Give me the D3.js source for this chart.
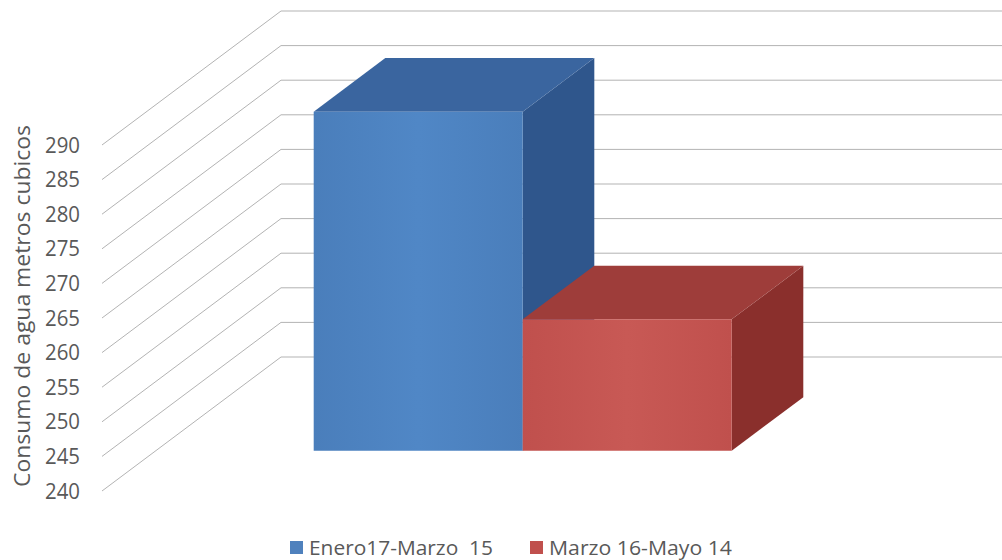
<!DOCTYPE html>
<html>
<head>
<meta charset="utf-8">
<script src="https://cdn.jsdelivr.net/npm/d3@7"></script>
<style>
  html, body { margin: 0; padding: 0; background: #ffffff; }
  svg { display: block; }
  text { font-family: "Open Sans", "Liberation Sans", sans-serif; fill: #595959; }
</style>
</head>
<body>
<svg id="chart" width="1002" height="560"></svg>
<script>
// ---- data ----
const categories = ["Enero17-Marzo  15", "Marzo 16-Mayo 14"];
const values = [289, 259];
const tickValues = [240, 245, 250, 255, 260, 265, 270, 275, 280, 285, 290];
const axisTitle = "Consumo de agua metros cubicos";

// ---- styles ----
const palette = {
  front: ["#4a7ebb", "#c0504d"],
  frontLight: ["#5087c6", "#c85955"],
  top: ["#3a659f", "#9e3d3a"],
  side: ["#2f568c", "#8a2f2c"],
  legend: ["#4f81bd", "#c0504d"]
};

const svg = d3.select("#chart");
const defs = svg.append("defs");

// oblique 3D projection parameters
const plotLeft = 102;
const DX = 179, DY = -134;          // depth vector (front -> back wall)
const backRight = 1002;
const t0 = 0.30, t1 = 0.70;        // bar depth range

const y = d3.scaleLinear().domain([240, 290]).range([491, 145]);
const x = d3.scaleBand().domain(categories).range([260, 678]).paddingInner(0).paddingOuter(0);

const P = (px, v, t) => [px + DX * t, y(v) + DY * t];

// gridlines: diagonals (side wall) + horizontals (back wall)
const grid = svg.append("g").attr("stroke", "#b3b3b3").attr("stroke-width", 1).attr("fill", "none");
grid.selectAll("line.diag").data(tickValues).join("line")
  .attr("class", "diag")
  .attr("x1", plotLeft).attr("y1", d => y(d))
  .attr("x2", plotLeft + DX).attr("y2", d => y(d) + DY);
grid.selectAll("line.back").data(tickValues).join("line")
  .attr("class", "back")
  .attr("x1", plotLeft + DX).attr("y1", d => y(d) + DY)
  .attr("x2", backRight).attr("y2", d => y(d) + DY);

// tick labels
svg.append("g").selectAll("text").data(tickValues).join("text")
  .attr("x", 80).attr("y", d => y(d)).attr("dy", "0.36em")
  .attr("text-anchor", "end").attr("font-size", 21)
  .attr("textLength", 35).attr("lengthAdjust", "spacingAndGlyphs")
  .text(d => d);

// axis title
svg.append("text")
  .attr("transform", "translate(30,306) rotate(-90)")
  .attr("text-anchor", "middle").attr("font-size", 22)
  .attr("textLength", 362).attr("lengthAdjust", "spacingAndGlyphs")
  .text(axisTitle);

// gradients for front faces
categories.forEach((c, i) => {
  const g = defs.append("linearGradient").attr("id", "fg" + i)
    .attr("x1", "0").attr("x2", "1").attr("y1", "0").attr("y2", "0");
  g.append("stop").attr("offset", "0").attr("stop-color", palette.front[i]);
  g.append("stop").attr("offset", "0.5").attr("stop-color", palette.frontLight[i]);
  g.append("stop").attr("offset", "1").attr("stop-color", palette.front[i]);
});

// bars
const poly = pts => pts.map(p => p.join(",")).join(" ");
const bars = svg.append("g");
categories.forEach((c, i) => {
  const v = values[i];
  const xa = x(c), xb = x(c) + x.bandwidth();
  const g = bars.append("g");
  g.append("polygon").attr("points", poly([P(xb, 240, t0), P(xb, 240, t1), P(xb, v, t1), P(xb, v, t0)]))
    .attr("fill", palette.side[i]);
  g.append("polygon").attr("points", poly([P(xa, v, t0), P(xb, v, t0), P(xb, v, t1), P(xa, v, t1)]))
    .attr("fill", palette.top[i]);
  g.append("polygon").attr("points", poly([P(xa, 240, t0), P(xb, 240, t0), P(xb, v, t0), P(xa, v, t0)]))
    .attr("fill", "url(#fg" + i + ")");
});

// legend
const legendX = [290, 530];
const legendLen = [184, 183];
const legend = svg.append("g");
categories.forEach((c, i) => {
  legend.append("rect").attr("x", legendX[i]).attr("y", 541).attr("width", 13).attr("height", 13)
    .attr("fill", palette.legend[i]);
  legend.append("text").attr("x", legendX[i] + 19).attr("y", 555)
    .attr("font-size", 20).style("white-space", "pre").attr("xml:space", "preserve")
    .attr("textLength", legendLen[i]).attr("lengthAdjust", "spacingAndGlyphs")
    .text(c);
});
</script>
</body>
</html>
